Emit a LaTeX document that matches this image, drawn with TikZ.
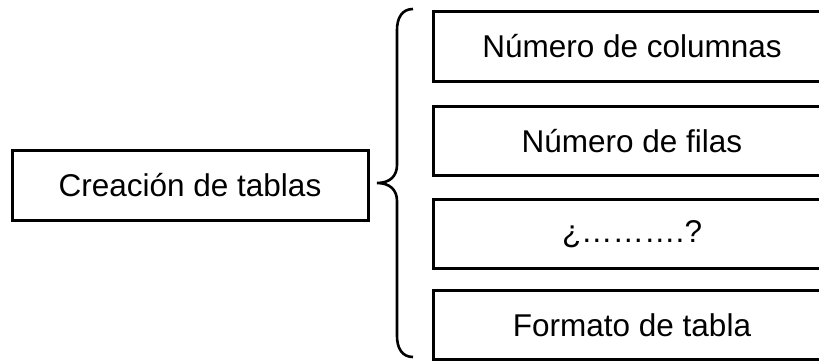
\documentclass[tikz,border=0pt]{standalone}
\usepackage{fontspec}
\setmainfont{Liberation Sans}
\begin{document}
\begin{tikzpicture}[x=1pt,y=1pt,
  boxnode/.style={draw=black,line width=3pt,inner sep=0pt,
    font=\fontsize{31.5}{36}\selectfont},
  bracepath/.style={draw=black,line width=2.6pt}]
\useasboundingbox (0,0) rectangle (819,-361);
\clip (0,0) rectangle (819,-361);
\node[boxnode,minimum width=356pt,minimum height=70pt] (main) at (190,-185) {Creación de tablas};
\node[boxnode,minimum width=397pt,minimum height=70pt,anchor=north west] (b1) at (432,-10) {Número de columnas};
\node[boxnode,minimum width=397pt,minimum height=69pt,anchor=north west] (b2) at (432,-105) {Número de filas};
\node[boxnode,minimum width=397pt,minimum height=69pt,anchor=north west] (b3) at (432,-198) {¿……….?};
\node[boxnode,minimum width=397pt,minimum height=69pt,anchor=north west] (b4) at (432,-289) {Formato de tabla};
\coordinate (btop) at (413,-9);
\coordinate (btip) at (377,-183);
\coordinate (bbot) at (413,-357);
\draw[bracepath] (btop) .. controls (402,-9) and (397,-18) .. (397,-30) -- (397,-165)
  .. controls (397,-176) and (390,-183) .. (btip)
  .. controls (390,-183) and (397,-190) .. (397,-201) -- (397,-336)
  .. controls (397,-348) and (402,-357) .. (bbot);
\end{tikzpicture}
\end{document}
